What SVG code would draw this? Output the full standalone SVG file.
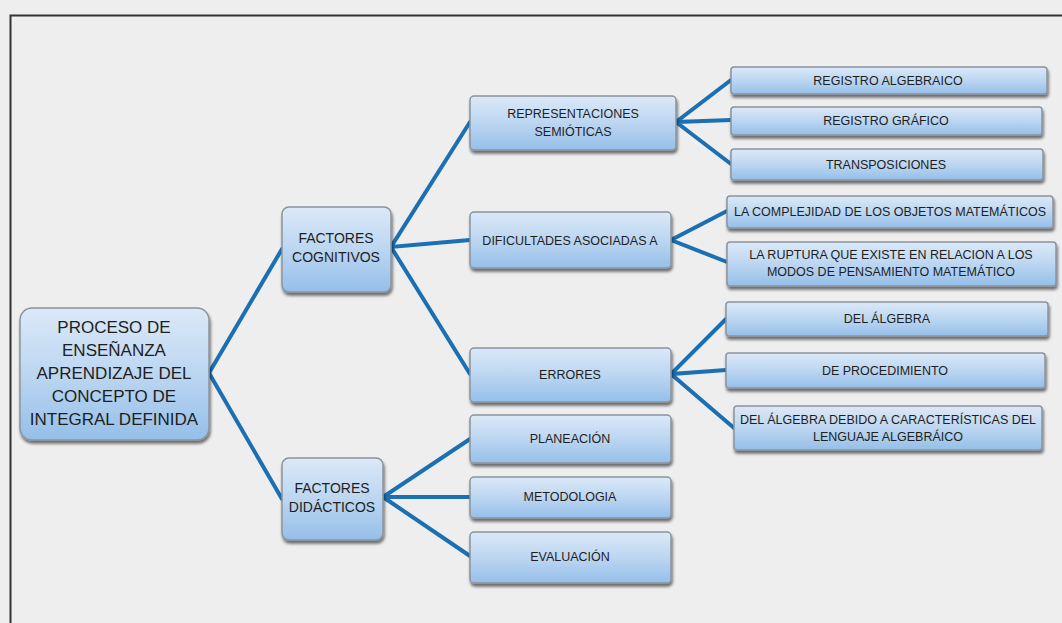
<svg xmlns="http://www.w3.org/2000/svg" width="1062" height="623" viewBox="0 0 1062 623">
<defs>
<linearGradient id="g" x1="0" y1="0" x2="0" y2="1">
<stop offset="0" stop-color="#dbe9f8"/>
<stop offset="0.5" stop-color="#bcd6f1"/>
<stop offset="1" stop-color="#95bfe9"/>
</linearGradient>
<filter id="sh" x="-10%" y="-10%" width="125%" height="140%">
<feGaussianBlur in="SourceAlpha" stdDeviation="1.5"/>
<feOffset dx="1" dy="3" result="b"/>
<feComponentTransfer><feFuncA type="linear" slope="0.55"/></feComponentTransfer>
<feMerge><feMergeNode/><feMergeNode in="SourceGraphic"/></feMerge>
</filter>
</defs>
<style>
.n{fill:url(#g);stroke:#8a949e;stroke-width:1.5;filter:url(#sh)}
text{font-family:"Liberation Sans",Arial,sans-serif;fill:#1e1e1e;text-anchor:middle}
.t1{font-size:17px}
.t2{font-size:14px}
.t3{font-size:12.5px}
.c{stroke:#1b70b4;stroke-width:4;fill:none;stroke-linecap:round}
</style>
<rect x="0" y="0" width="1062" height="623" fill="#eeeeee"/>
<path d="M10.5 623 V15.5 H1062" fill="none" stroke="#333" stroke-width="2"/>
<g id="connectors">
<path class="c" d="M282 249 L209 373 L282 499"/>
<path class="c" d="M470 122 L391 247 L470 240 M391 247 L470 374"/>
<path class="c" d="M470 439 L383 497 L470 497 M383 497 L470 556"/>
<path class="c" d="M731 80 L676 122 L731 120 M676 122 L731 164"/>
<path class="c" d="M727 211 L671 240 L727 262"/>
<path class="c" d="M726 319 L671 374 L726 370 M671 374 L734 428"/>
</g>
<g id="root"><rect class="n" x="20" y="308" width="189" height="132" rx="12"/>
<text class="t1"><tspan x="114" y="333">PROCESO DE</tspan><tspan x="114" y="356">ENSEÑANZA</tspan><tspan x="114" y="379">APRENDIZAJE DEL</tspan><tspan x="114" y="402">CONCEPTO DE</tspan><tspan x="114" y="425">INTEGRAL DEFINIDA</tspan></text></g>
<g id="cognitivos"><rect class="n" x="282" y="207" width="109" height="85" rx="7"/>
<text class="t2"><tspan x="336" y="243">FACTORES</tspan><tspan x="336" y="262">COGNITIVOS</tspan></text></g>
<g id="didacticos"><rect class="n" x="282" y="458" width="101" height="82" rx="7"/>
<text class="t2"><tspan x="332" y="493">FACTORES</tspan><tspan x="332" y="512">DIDÁCTICOS</tspan></text></g>
<g id="representaciones"><rect class="n" x="470" y="96" width="206" height="54" rx="4"/>
<text class="t3"><tspan x="573" y="118">REPRESENTACIONES</tspan><tspan x="573" y="136">SEMIÓTICAS</tspan></text></g>
<g id="dificultades"><rect class="n" x="470" y="212" width="201" height="56" rx="4"/>
<text class="t3" x="570" y="245">DIFICULTADES ASOCIADAS A</text></g>
<g id="errores"><rect class="n" x="470" y="348" width="201" height="54" rx="4"/>
<text class="t3" x="570" y="379">ERRORES</text></g>
<g id="planeacion"><rect class="n" x="470" y="415" width="201" height="48" rx="4"/>
<text class="t3" x="570" y="443">PLANEACIÓN</text></g>
<g id="metodologia"><rect class="n" x="470" y="477" width="201" height="41" rx="4"/>
<text class="t3" x="570" y="501">METODOLOGIA</text></g>
<g id="evaluacion"><rect class="n" x="470" y="532" width="201" height="51" rx="4"/>
<text class="t3" x="570" y="561">EVALUACIÓN</text></g>
<g id="alg"><rect class="n" x="731" y="67" width="316" height="27" rx="3"/>
<text class="t3" x="888" y="85">REGISTRO ALGEBRAICO</text></g>
<g id="graf"><rect class="n" x="731" y="107" width="311" height="28" rx="3"/>
<text class="t3" x="886" y="125">REGISTRO GRÁFICO</text></g>
<g id="transp"><rect class="n" x="731" y="149" width="312" height="31" rx="3"/>
<text class="t3" x="886" y="169">TRANSPOSICIONES</text></g>
<g id="complejidad"><rect class="n" x="727" y="196" width="326" height="32" rx="3"/>
<text class="t3" x="890" y="216">LA COMPLEJIDAD DE LOS OBJETOS MATEMÁTICOS</text></g>
<g id="ruptura"><rect class="n" x="727" y="242" width="329" height="44" rx="3"/>
<text class="t3"><tspan x="891" y="259">LA RUPTURA QUE EXISTE EN RELACION A LOS</tspan><tspan x="891" y="276">MODOS DE PENSAMIENTO MATEMÁTICO</tspan></text></g>
<g id="delalgebra"><rect class="n" x="726" y="302" width="322" height="34" rx="3"/>
<text class="t3" x="887" y="323">DEL ÁLGEBRA</text></g>
<g id="procedimiento"><rect class="n" x="726" y="353" width="319" height="35" rx="3"/>
<text class="t3" x="885" y="375">DE PROCEDIMIENTO</text></g>
<g id="caracteristicas"><rect class="n" x="734" y="406" width="308" height="44" rx="3"/>
<text class="t3"><tspan x="888" y="424">DEL ÁLGEBRA DEBIDO A CARACTERÍSTICAS DEL</tspan><tspan x="888" y="441">LENGUAJE ALGEBRÁICO</tspan></text></g>
</svg>
